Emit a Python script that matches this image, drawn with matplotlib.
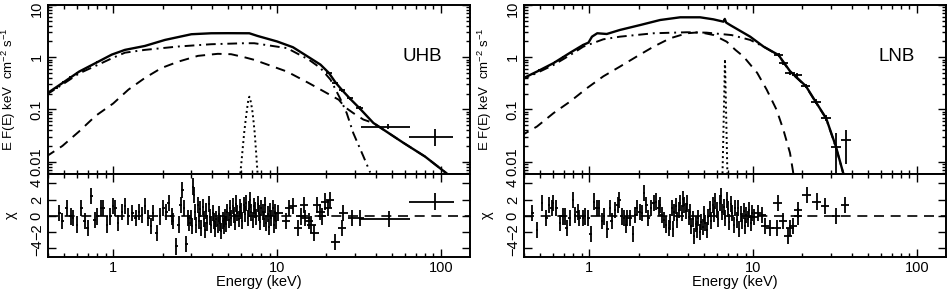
import numpy as np
import matplotlib
matplotlib.use("Agg")
import matplotlib.pyplot as plt
import matplotlib.transforms as mtransforms
from matplotlib.ticker import LogLocator, NullFormatter, FixedLocator

plt.rcParams['font.family'] = ['Liberation Sans', 'DejaVu Sans']
plt.rcParams['mathtext.default'] = 'regular'
plt.rcParams['font.size'] = 10.5

# ---------------- UHB (left) ----------------
uhb_tot_e = [0.39, 0.49, 0.62, 0.78, 0.98, 1.18, 1.56, 2.07, 3.0, 3.96, 5.0, 6.77, 7.6, 10, 12.5,
             15.6, 18.4, 20.7, 22.7, 24.9, 27.9, 31.9, 38.7, 58.9, 80, 108]
uhb_tot_f = [0.197, 0.32, 0.53, 0.77, 1.12, 1.38, 1.64, 2.14, 2.75, 2.87, 2.88, 2.87, 2.55, 2.0, 1.55,
             1.0, 0.72, 0.50, 0.33, 0.235, 0.16, 0.105, 0.055, 0.023, 0.0125, 0.006]
uhb_disk_e = [0.39, 0.49, 0.62, 0.78, 0.98, 1.18, 1.56, 2.49, 3.96, 6.3, 7.25, 11.5, 15.6, 18.4,
              21.2, 24.3, 26.6, 29.2, 33.6, 37.0]
uhb_disk_f = [0.19, 0.30, 0.49, 0.68, 0.95, 1.22, 1.38, 1.6, 1.77, 1.85, 1.85, 1.49, 0.9, 0.62,
              0.37, 0.16, 0.085, 0.035, 0.0127, 0.0062]
uhb_comp_e = [0.39, 0.49, 0.62, 0.78, 1.0, 1.24, 1.56, 1.97, 2.49, 3.29, 4.35, 5.24, 6.3, 7.25, 10,
              11.5, 15.6, 18.4, 23.8, 26.0, 29.2, 33.6, 38.7, 58.9, 80, 108]
uhb_comp_f = [0.0125, 0.02, 0.038, 0.075, 0.13, 0.24, 0.40, 0.62, 0.82, 1.06, 1.16, 1.14, 1.0, 0.89, 0.62,
              0.53, 0.32, 0.24, 0.153, 0.11, 0.085, 0.064, 0.055, 0.023, 0.0125, 0.006]
uhb_line_e = [5.97, 6.15, 6.3, 6.45, 6.55, 6.67, 6.77, 6.88, 7.05, 7.18, 7.3, 7.45, 7.6]
uhb_line_f = [0.006, 0.016, 0.036, 0.068, 0.099, 0.15, 0.175, 0.15, 0.099, 0.06, 0.036, 0.015, 0.006]

uhb_spec_e = [0.45, 0.5, 0.55, 0.6, 0.66, 0.72, 0.8, 0.9, 20.7, 22.7, 24.9, 27.9, 31.9, 47.6, 91.5]
uhb_spec_f = [0.26, 0.33, 0.41, 0.5, 0.58, 0.67, 0.8, 0.98, 0.50, 0.32, 0.235, 0.163, 0.105, 0.047, 0.030]
uhb_spec_elo = [0.44, 0.49, 0.54, 0.59, 0.65, 0.71, 0.79, 0.89, 19.8, 21.7, 23.8, 26.7, 30.5, 32.4, 63.6]
uhb_spec_ehi = [0.46, 0.51, 0.56, 0.61, 0.67, 0.73, 0.81, 0.91, 21.6, 23.7, 26.0, 29.2, 33.3, 64.6, 118]
uhb_spec_flo = [0.25, 0.32, 0.40, 0.49, 0.57, 0.66, 0.78, 0.96, 0.47, 0.30, 0.22, 0.150, 0.096, 0.042, 0.0196]
uhb_spec_fhi = [0.27, 0.34, 0.42, 0.51, 0.59, 0.68, 0.82, 1.00, 0.53, 0.34, 0.25, 0.176, 0.114, 0.053, 0.043]

uhb_res_e = [0.47, 0.49, 0.52, 0.55, 0.57, 0.60, 0.64, 0.67, 0.70, 0.735,
             0.77, 0.80, 0.845, 0.87, 0.915, 0.96, 1.00, 1.03, 1.07, 1.13,
             1.18, 1.24, 1.31, 1.37, 1.44, 1.50, 1.56, 1.64, 1.70, 1.75,
             1.84, 1.93, 2.02, 2.11, 2.18, 2.27, 2.31, 2.43, 2.51, 2.58,
             2.64, 2.70, 2.79, 2.86, 2.92, 2.97, 3.02, 3.07, 3.12, 3.17,
             3.22, 3.28, 3.33, 3.39, 3.45, 3.51, 3.57, 3.63, 3.70, 3.76,
             3.83, 3.90, 3.97, 4.04, 4.11, 4.18, 4.26, 4.33, 4.41, 4.49,
             4.57, 4.65, 4.73, 4.81, 4.90, 4.98, 5.07, 5.16, 5.25, 5.35,
             5.44, 5.54, 5.63, 5.73, 5.84, 5.94, 6.05, 6.15, 6.26, 6.37,
             6.49, 6.60, 6.72, 6.84, 6.96, 7.08, 7.21, 7.34, 7.47, 7.60,
             7.74, 7.87, 8.01, 8.15, 8.30, 8.45, 8.60, 8.75, 8.91, 9.07,
             9.23, 9.39, 9.56, 9.73, 9.90, 10.2, 11.3, 11.8, 12.5, 13.4,
             13.9, 14.6, 14.9, 15.6, 16.2, 16.9, 17.5, 18.4, 18.8, 19.5,
             20.4, 21.1, 22.7, 25.0, 25.4, 28.5, 32.0]
uhb_res_chi = [0.3, -0.7, 0.95, -0.1, -0.3, -1.1, 0.95, -0.7, -1.5, 2.4,
               -0.5, -0.1, 0.95, 0.95, -1.1, -0.1, 1.2, 0.95, -0.9, 0.5,
               1.15, -0.1, 0.33, -0.3, 0.5, 0.1, 1.15, -0.3, -1.3, 0.33,
               -2.1, -0.1, 0.95, 0.5, 1.55, -0.1, -0.7, -3.8, -1.1, 1.35,
               3.2, 0.95, -3.5, -0.3, -0.9, -0.3, -1.3, 3.6, 2.6, 0.5,
               -1.2, 1.3, -0.6, 0.8, -1.5, 1.1, -0.4, -1.8, 0.6, -0.9,
               1.4, -0.2, -1.1, 0.3, -0.7, -1.6, -0.4, -1.2, 0.2, -0.9,
               -1.9, -0.6, -1.3, -0.2, -1.0, 0.4, -0.5, 0.9, -0.3, 1.2,
               0.1, -0.8, 1.5, 0.3, -0.4, 1.1, 0.6, -0.6, 1.3, 0.2,
               1.6, -0.3, 0.8, 1.9, 0.4, -0.5, 1.2, 0.7, -0.2, 1.4,
               0.3, -0.8, 1.0, 0.5, -0.4, 1.3, -0.9, 0.2, -1.4, 0.6,
               -0.3, 1.0, -1.1, 0.4, -0.6, 0.3, -0.7, 0.95, 1.15, -1.5,
               -0.1, 1.35, -0.3, -0.7, -1.1, -2.1, 1.35, 0.5, -0.1, 1.75,
               0.95, 1.95, -3.3, -1.5, 0.3, -0.3, -0.3]
uhb_wide_e = [48.5, 91.5]
uhb_wide_lo = [31.7, 64.0]
uhb_wide_hi = [64.6, 120.0]
uhb_wide_chi = [-0.4, 1.75]

# ---------------- LNB (right) ----------------
lnb_tot_e = [0.379, 0.48, 0.606, 0.766, 0.92, 0.99, 1.04, 1.12, 1.28, 1.54, 2.05, 2.71, 3.59, 4.75,
             5.73, 6.6, 6.72, 6.85, 7.24, 9.6, 11.6, 14.3, 16.8, 21, 24.1, 27.9, 32, 35.5]
lnb_tot_f = [0.37, 0.53, 0.77, 1.22, 1.72, 1.9, 2.47, 2.87, 2.78, 3.32, 4.13, 5.15, 5.8, 5.8,
             5.3, 4.78, 5.4, 4.6, 4.13, 2.47, 1.59, 1.1, 0.54, 0.28, 0.14, 0.068, 0.0196, 0.006]
lnb_disk_e = [0.379, 0.48, 0.606, 0.766, 0.92, 1.22, 1.54, 2.47, 3.94, 5.2, 7.4, 9.6, 11.6, 14.3,
              16.8, 21, 24.1, 27.9, 32, 35.5]
lnb_disk_f = [0.36, 0.5, 0.71, 1.1, 1.59, 2.2, 2.47, 2.87, 3.0, 2.95, 2.65, 2.14, 1.59, 1.08,
              0.53, 0.275, 0.138, 0.067, 0.019, 0.006]
lnb_comp_e = [0.379, 0.48, 0.606, 0.766, 0.97, 1.22, 1.54, 1.95, 2.47, 3.12, 3.94, 4.75, 5.73, 6.9,
              7.8, 8.74, 10.6, 12.1, 13.9, 15.3, 16.8, 17.6]
lnb_comp_f = [0.0306, 0.047, 0.085, 0.142, 0.256, 0.43, 0.66, 1.03, 1.59, 2.3, 2.87, 3.0, 2.66, 1.98,
              1.38, 1.03, 0.5, 0.24, 0.099, 0.041, 0.0147, 0.006]
lnb_line_e = [6.51, 6.74, 6.97]
lnb_line_f = [0.006, 0.92, 0.006]

lnb_spec_e = [0.45, 0.5, 0.56, 0.62, 0.69, 0.76, 0.84, 0.92, 14.3, 15.3, 16.8, 18.5, 21.0, 24.1, 27.9,
              32.0, 36.9]
lnb_spec_f = [0.47, 0.56, 0.68, 0.8, 1.0, 1.2, 1.45, 1.72, 1.09, 0.76, 0.49, 0.45, 0.28, 0.14, 0.068,
              0.0195, 0.026]
lnb_spec_elo = [0.44, 0.49, 0.55, 0.61, 0.68, 0.75, 0.83, 0.91, 13.4, 14.3, 15.7, 17.3, 19.7, 22.6, 26.1,
                30.0, 34.6]
lnb_spec_ehi = [0.46, 0.51, 0.57, 0.63, 0.70, 0.77, 0.85, 0.93, 15.3, 16.3, 18.0, 19.8, 22.4, 25.8, 29.8,
                34.2, 39.4]
lnb_spec_flo = [0.45, 0.54, 0.66, 0.78, 0.97, 1.17, 1.41, 1.68, 1.0, 0.70, 0.45, 0.41, 0.255, 0.125, 0.059,
                0.001, 0.009]
lnb_spec_fhi = [0.49, 0.58, 0.70, 0.82, 1.03, 1.23, 1.49, 1.76, 1.18, 0.82, 0.53, 0.49, 0.305, 0.155, 0.077,
                0.035, 0.041]

lnb_res_e = [0.45, 0.48, 0.515, 0.547, 0.57, 0.59, 0.60, 0.63, 0.665, 0.69,
             0.71, 0.73, 0.76, 0.795, 0.82, 0.85, 0.87, 0.915, 0.945, 0.99,
             1.02, 1.07, 1.11, 1.15, 1.20, 1.23, 1.29, 1.34, 1.37, 1.44,
             1.49, 1.53, 1.58, 1.63, 1.68, 1.71, 1.78, 1.85, 1.91, 1.95,
             2.03, 2.10, 2.16, 2.23, 2.30, 2.38, 2.47, 2.56, 2.65, 2.71,
             2.77, 2.86, 2.95, 3.05, 3.12, 3.18, 3.25, 3.31, 3.38, 3.45,
             3.52, 3.59, 3.66, 3.73, 3.80, 3.88, 3.96, 4.04, 4.12, 4.20,
             4.28, 4.37, 4.46, 4.55, 4.64, 4.73, 4.83, 4.92, 5.02, 5.12,
             5.23, 5.33, 5.44, 5.55, 5.66, 5.77, 5.89, 6.01, 6.13, 6.25,
             6.37, 6.50, 6.63, 6.76, 6.90, 7.04, 7.18, 7.32, 7.47, 7.62,
             7.77, 7.93, 8.09, 8.25, 8.41, 8.58, 8.75, 8.93, 9.11, 9.29,
             9.48, 9.67, 9.86, 10.07, 10.7, 11.3, 11.8, 12.7, 13.9, 14.1,
             15.2, 16.3, 16.8, 17.6, 18.7, 18.9, 21.2, 24.4, 27.5, 32.0,
             36.3]
lnb_res_chi = [0.3, -1.8, 1.55, -0.3, 1.35, 0.95, 1.55, 0.95, -0.9, -0.1,
               -0.1, -1.5, -0.3, 1.95, 0.1, 0.5, -0.3, -0.3, -0.1, -0.3,
               -2.3, 1.75, 0.95, 0.95, -0.7, -0.1, -1.7, 0.95, -0.7, 0.75,
               1.35, 1.95, -0.1, -0.3, -1.1, -0.3, -0.3, -2.3, 0.1, 0.95,
               0.5, 0.33, 2.8, 1.35, -0.3, 0.95, 1.55, 1.75, 0.95, 1.35,
               0.1, -0.5, -1.1, -1.5, -0.8, 0.9, -1.6, 0.4, 1.2, -0.5,
               0.7, 1.6, 0.3, 2.1, 1.3, 0.6, 1.5, -0.2, 0.5, -1.3,
               -0.4, -2.5, -1.0, -1.7, -0.3, -2.0, -0.8, -1.4, 0.2, -0.9,
               -1.8, -0.2, 0.8, -0.6, 1.3, 0.2, 1.8, 0.7, -0.4, 1.6,
               2.4, 0.5, 1.1, -0.3, 1.9, 0.8, -0.8, 1.4, 0.3, -1.2,
               0.9, -0.5, 1.0, -1.6, 0.2, -0.7, 0.6, -1.3, 0.1, -0.4,
               0.7, -0.9, 0.3, -0.2, 0.33, 0.1, -1.3, -1.5, -1.5, 1.55,
               -0.7, -2.5, -1.5, -1.3, -0.1, 0.75, 2.6, 1.75, 1.15, 0.0,
               1.35]

ylabel_top = "E F(E) keV  cm$^{-2}$ s$^{-1}$"


def style_axis(ax):
    ax.set_xscale('log')
    ax.set_xlim(0.4, 150)
    ax.tick_params(which='both', direction='in', top=True, right=True, width=1.0)
    ax.tick_params(which='major', length=6)
    ax.tick_params(which='minor', length=3)
    ax.tick_params(axis='y', labelrotation=90, pad=3)
    ax.tick_params(axis='x', pad=3)
    for lab in ax.get_yticklabels():
        lab.set_va('center')
    for sp in ax.spines.values():
        sp.set_linewidth(1.4)


def asym(vals, lo, hi):
    v = np.asarray(vals)
    return [v - np.asarray(lo), np.asarray(hi) - v]


def res_xerr(e):
    e = np.asarray(e)
    w = np.where(e < 3, 0.008, np.where(e < 10, 0.006, 0.025))
    return [e - e / 10 ** w, e * 10 ** w - e]


def panel(x0, name, tot, disk, comp, line, spec, res, wide=None):
    w = 0.445
    ax = fig.add_axes([x0, 0.402, w, 0.581])
    rx = fig.add_axes([x0, 0.117, w, 0.285], sharex=ax)

    ax.plot(tot[0], tot[1], color='k', lw=1.7)
    ax.plot(disk[0], disk[1], color='k', lw=1.4, dashes=(5, 2.5, 1, 2.5))
    ax.plot(comp[0], comp[1], color='k', lw=1.4, dashes=(5, 3.5))
    ax.plot(line[0], line[1], color='k', lw=1.4, dashes=(1, 1.6))
    se, sf, elo, ehi, flo, fhi = spec
    ax.errorbar(se, sf, xerr=asym(se, elo, ehi), yerr=asym(sf, flo, fhi),
                fmt='none', ecolor='k', elinewidth=1.3)
    ax.set_yscale('log')
    ax.set_ylim(0.0058, 10)
    ax.yaxis.set_major_locator(FixedLocator([0.01, 0.1, 1, 10]))
    ax.yaxis.set_minor_locator(LogLocator(base=10, subs=np.arange(2, 10)))
    ax.set_yticklabels(['0.01', '0.1', '1', '10'])
    style_axis(ax)
    # nudge the top "10" label down a touch so it is not clipped by the figure edge
    top_lab = ax.get_yticklabels()[-1]
    top_lab.set_transform(top_lab.get_transform() +
                          mtransforms.ScaledTranslation(0, -3 / 72, fig.dpi_scale_trans))
    plt.setp(ax.get_xticklabels(), visible=False)
    ax.set_ylabel(ylabel_top, fontsize=9.5)
    ax.yaxis.set_label_coords(-0.072, 0.5)
    ax.text(0.84, 0.695, name, transform=ax.transAxes, fontsize=13.5,
            ha='left', va='center')

    re, rc = res
    rx.axhline(0, color='k', lw=1.2, dashes=(6, 4))
    rx.errorbar(re, rc, xerr=res_xerr(re), yerr=1.0, fmt='none',
                ecolor='k', elinewidth=1.3)
    if wide is not None:
        we, wlo, whi, wc = wide
        rx.errorbar(we, wc, xerr=asym(we, wlo, whi), yerr=1.0, fmt='none',
                    ecolor='k', elinewidth=1.3)
    rx.set_ylim(-5.1, 5.15)
    rx.yaxis.set_major_locator(FixedLocator([-4, -2, 0, 2, 4]))
    rx.set_yticklabels(['\u22124', '\u22122', '0', '2', '4'])
    style_axis(rx)
    rx.xaxis.set_major_locator(FixedLocator([1, 10, 100]))
    rx.xaxis.set_minor_locator(LogLocator(base=10, subs=np.arange(2, 10)))
    rx.xaxis.set_minor_formatter(NullFormatter())
    rx.set_xticklabels(['1', '10', '100'])
    rx.set_xlim(0.4, 150)
    rx.set_xlabel('Energy (keV)', labelpad=0)
    rx.set_ylabel('\u03c7')
    rx.yaxis.set_label_coords(-0.072, 0.5)


fig = plt.figure(figsize=(9.48, 2.91), dpi=100)

panel(0.0506, 'UHB',
      (uhb_tot_e, uhb_tot_f), (uhb_disk_e, uhb_disk_f), (uhb_comp_e, uhb_comp_f),
      (uhb_line_e, uhb_line_f),
      (uhb_spec_e, uhb_spec_f, uhb_spec_elo, uhb_spec_ehi, uhb_spec_flo, uhb_spec_fhi),
      (uhb_res_e, uhb_res_chi),
      (uhb_wide_e, uhb_wide_lo, uhb_wide_hi, uhb_wide_chi))
panel(0.5527, 'LNB',
      (lnb_tot_e, lnb_tot_f), (lnb_disk_e, lnb_disk_f), (lnb_comp_e, lnb_comp_f),
      (lnb_line_e, lnb_line_f),
      (lnb_spec_e, lnb_spec_f, lnb_spec_elo, lnb_spec_ehi, lnb_spec_flo, lnb_spec_fhi),
      (lnb_res_e, lnb_res_chi))

fig.savefig('out.png', dpi=100)
